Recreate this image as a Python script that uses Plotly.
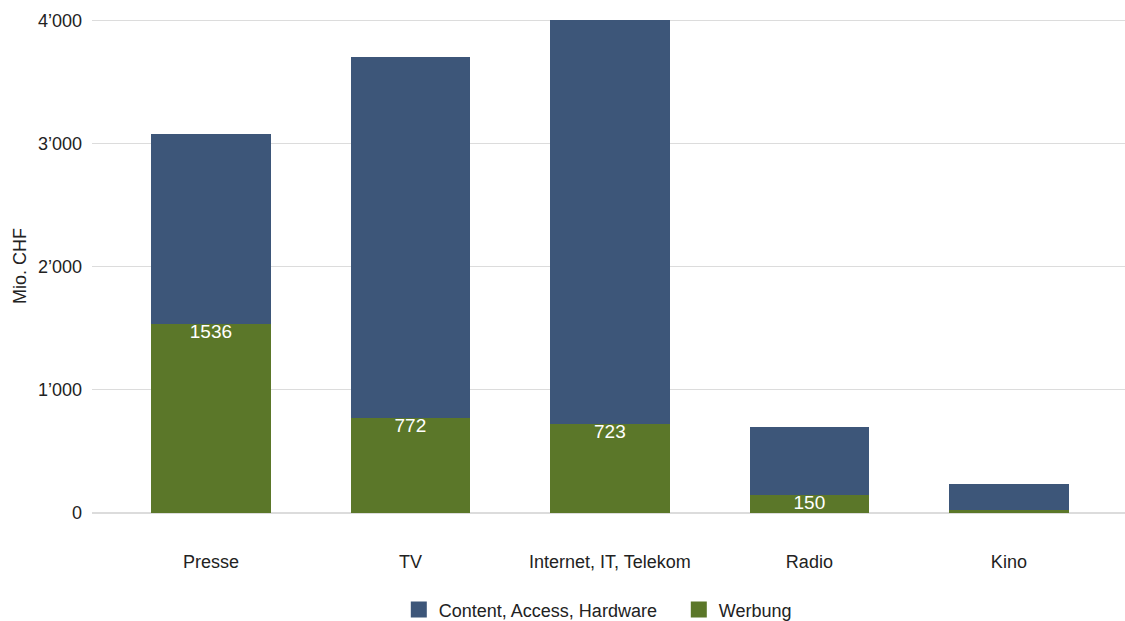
import plotly.graph_objects as go

categories = ["Presse", "TV", "Internet, IT, Telekom", "Radio", "Kino"]
werbung = [1536, 772, 723, 150, 28]
content = [1538, 2926, 3282, 547, 207]
werbung_labels = ["1536", "772", "723", "150", ""]
tick_vals = [0, 1000, 2000, 3000, 4000]
tick_text = ["0", "1’000", "2’000", "3’000", "4’000"]

blue = "#3d5679"
green = "#5b7729"

fig = go.Figure()
fig.add_trace(go.Bar(
    x=categories, y=werbung, name="Werbung", marker_color=green,
    marker_line_width=0, hoverinfo="y", showlegend=False,
))
fig.add_trace(go.Bar(
    x=categories, y=content, name="Content, Access, Hardware",
    marker_color=blue, marker_line_width=0, hoverinfo="y", showlegend=False,
))
fig.add_trace(go.Scatter(
    x=categories, y=werbung, mode="text", text=werbung_labels,
    textposition="bottom center", textfont=dict(color="white", size=19),
    hoverinfo="skip", showlegend=False, cliponaxis=False,
))
# legend entries
fig.add_trace(go.Scatter(
    x=[None], y=[None], mode="markers", name="Content, Access, Hardware",
    marker=dict(symbol="square", size=18, color=blue),
))
fig.add_trace(go.Scatter(
    x=[None], y=[None], mode="markers", name="Werbung",
    marker=dict(symbol="square", size=18, color=green),
))

fig.update_layout(
    barmode="stack",
    bargap=0.4,
    width=1125, height=621,
    margin=dict(l=92, r=0, t=19, b=108, autoexpand=False),
    paper_bgcolor="white", plot_bgcolor="white",
    font=dict(family="Liberation Sans, Arial, sans-serif", size=18, color="#222222"),
    showlegend=True,
    legend=dict(orientation="h", x=0.297, xanchor="left", y=-0.196, yanchor="middle",
                font=dict(size=18), traceorder="normal", itemsizing="trace",
                entrywidth=235, entrywidthmode="pixels"),
)
fig.update_xaxes(
    range=[-0.596, 4.582], showgrid=False, showline=False, ticks="",
    ticklabelstandoff=36, tickfont=dict(size=18), automargin=False,
)
fig.update_yaxes(
    range=[0, 4010], tickvals=tick_vals, ticktext=tick_text,
    showgrid=True, gridcolor="#dcdcdc", zeroline=True, zerolinecolor="#dcdcdc",
    ticks="", ticklabelstandoff=9, tickfont=dict(size=18), automargin=True,
    title=dict(text="Mio. CHF", font=dict(size=18), standoff=6),
)

fig.write_html("out.html", post_script="document.body.style.margin='0';",
               config={"displayModeBar": False})
